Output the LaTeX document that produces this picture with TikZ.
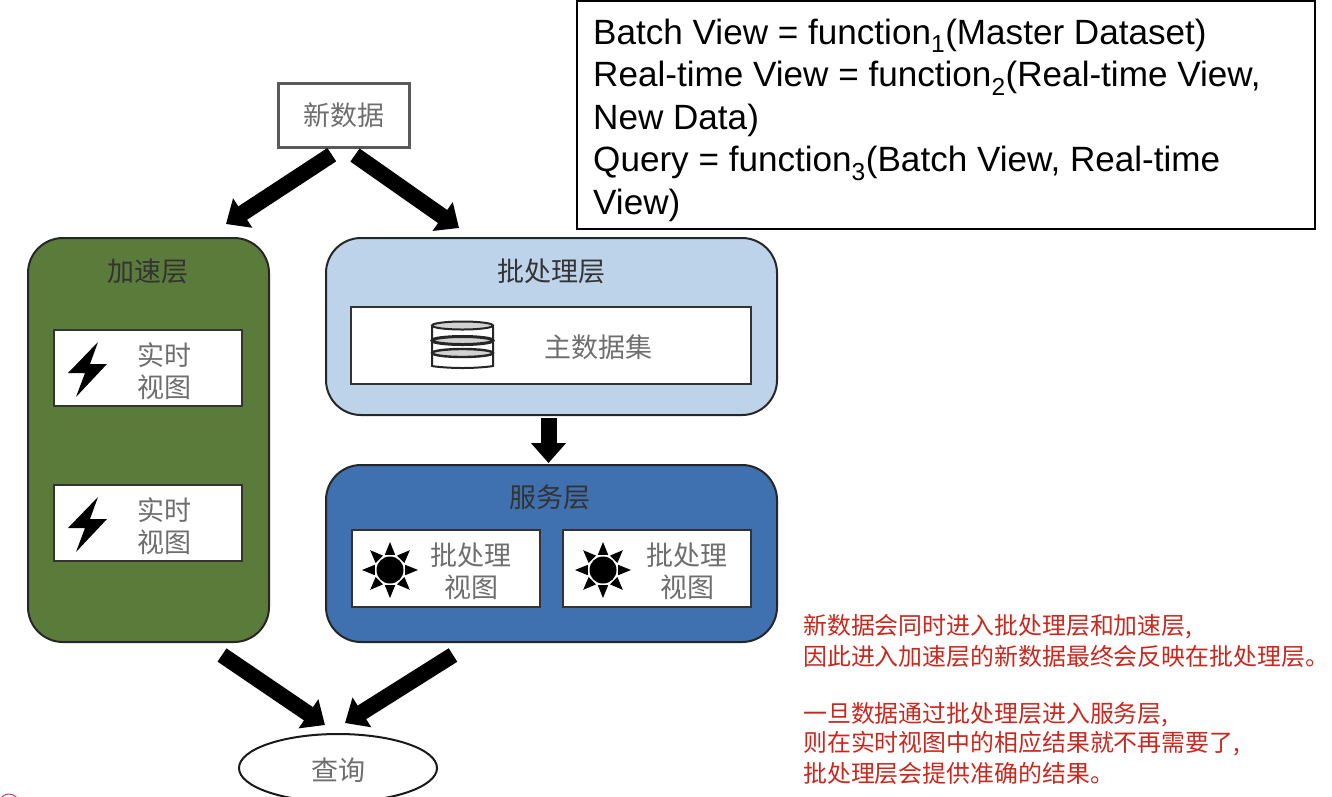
\documentclass[tikz,border=0pt]{standalone}
\usepackage{fontspec}
\setmainfont{Liberation Sans}
\newfontfamily\cjk{Noto Sans CJK SC}
\usepackage{tikz}
\usetikzlibrary{positioning,arrows.meta,shapes.geometric}
\definecolor{speedgreen}{HTML}{5B7B3A}
\definecolor{batchblue}{HTML}{BDD3EA}
\definecolor{servingblue}{HTML}{3F71B0}
\definecolor{notered}{HTML}{C8281E}
\definecolor{viewgray}{HTML}{6E6E6E}
\definecolor{markpink}{HTML}{C04060}
\newcommand{\fsize}[1]{\fontsize{#1}{#1}\selectfont}

\begin{document}
\begin{tikzpicture}[x=1pt,y=-1pt,
    layernode/.style={draw=black!85, line width=2pt, rounded corners=35pt, anchor=north west, inner sep=0pt, outer sep=0pt},
    viewnode/.style={draw=black!80, fill=white, line width=2.2pt, anchor=north west, inner sep=0pt, outer sep=0pt},
    titlelabel/.style={font=\cjk\fsize{27}, text=black!80},
    viewlabel/.style={font=\cjk\fsize{27}, text=viewgray, align=center, inner sep=0pt},
    notelabel/.style={font=\cjk\fsize{23.9}, text=notered, anchor=west, inner sep=0pt},
    fatarrow/.style={-{Triangle[width=34pt,length=20pt]}, line width=16pt, black},]
    \useasboundingbox (0,0) rectangle (1332,796);
    \clip (0,0) rectangle (1332,796);
    %Nodes
    \node[draw=black!65, line width=3pt, anchor=north west, minimum width=131pt, minimum height=64pt, outer sep=0pt, viewlabel] (newdata) at (278,83) {新数据};
    \node[layernode, fill=speedgreen, minimum width=241pt, minimum height=404pt] (speed) at (28,238) {};
    \node[layernode, fill=batchblue, minimum width=451pt, minimum height=177pt] (batch) at (326,238) {};
    \node[layernode, fill=servingblue, minimum width=451pt, minimum height=177pt] (serving) at (326,465) {};
    \node[draw=black!90, line width=2pt, ellipse, minimum width=198pt, minimum height=68pt, inner sep=0pt, fill=white] (query) at (338,768) {};
    \node[viewlabel] (querytext) at (338,770) {查询};
    \node[titlelabel] (speedtitle) at (148,271) {加速层};
    \node[titlelabel] (batchtitle) at (551,271) {批处理层};
    \node[titlelabel] (servingtitle) at (550,497) {服务层};
    \node[viewnode, minimum width=188pt, minimum height=76pt] (rtone) at (54,330) {};
    \node[viewnode, minimum width=188pt, minimum height=76pt] (rttwo) at (54,485) {};
    \node[viewnode, minimum width=400pt, minimum height=77pt] (master) at (351,307) {};
    \node[viewnode, minimum width=188pt, minimum height=77pt] (bvone) at (352,530) {};
    \node[viewnode, minimum width=188pt, minimum height=77pt] (bvtwo) at (563,530) {};
    \node[viewlabel] (rtonetext) at (164,371) {实时\\[5pt]视图};
    \node[viewlabel] (rttwotext) at (164,526) {实时\\[5pt]视图};
    \node[viewlabel] (mastertext) at (598,347) {主数据集};
    \node[viewlabel] (bvonetext) at (471,571) {批处理\\[5pt]视图};
    \node[viewlabel] (bvtwotext) at (687,571) {批处理\\[5pt]视图};
    \node[draw=black, fill=white, line width=2pt, anchor=north west, minimum width=738pt, minimum height=228pt, inner sep=0pt, outer sep=0pt] (formulas) at (577,1) {};
    \node[anchor=west, align=left, inner sep=0pt, font=\fsize{35.1}] (formulatext) at (593,120) {%
      Batch View = function\textsubscript{1}(Master Dataset)\\[7.4pt]
      Real-time View = function\textsubscript{2}(Real-time View,\\[7.4pt]
      New Data)\\[7.4pt]
      Query = function\textsubscript{3}(Batch View, Real-time\\[7.4pt]
      View)};
    \node[notelabel] (noteone) at (803,627) {新数据会同时进入批处理层和加速层,};
    \node[notelabel] (notetwo) at (803,656) {因此进入加速层的新数据最终会反映在批处理层。};
    \node[notelabel] (notethree) at (803,715) {一旦数据通过批处理层进入服务层,};
    \node[notelabel] (notefour) at (803,744) {则在实时视图中的相应结果就不再需要了,};
    \node[notelabel] (notefive) at (803,773) {批处理层会提供准确的结果。};
    % %Icons
    \foreach \cy in {370,525}
      \fill[black] (98,\cy-28) -- (68,\cy+3) -- (85,\cy+3) -- (76,\cy+27) -- (107,\cy-6) -- (90,\cy-6) -- cycle;
    \foreach \cx in {390,603} {
      \fill[black] (\cx,570) circle (13.5pt);
      \foreach \a in {0,45,...,315}
        \fill[black] ([shift={(\a:28pt)}]\cx,570) -- ([shift={(\a+19:16pt)}]\cx,570) -- ([shift={(\a-19:16pt)}]\cx,570) -- cycle;
    }
    \draw[black!85, line width=2pt, fill=white, rounded corners=2pt] (432,326) -- (432,364) arc (180:360:30.5pt and 4pt) -- (493,326);
    \foreach \cy/\lw in {325.5/2pt,340.5/3pt,353/2.4pt}
      \draw[black!85, line width=\lw, fill=black!18] (462.5,\cy) ellipse (30.5pt and 4pt);
    \draw[markpink, line width=1pt] (9,804) circle (10pt);
    %Lines
    \coordinate (speedhead) at (226,224);
    \coordinate (batchhead) at (459,228);
    \coordinate (speedfoot) at (222,655);
    \coordinate (servingfoot) at (453,655);
    \coordinate (queryleft) at (325,725);
    \coordinate (queryright) at (345,723);
    \coordinate (servinghead) at (548.5,463);
    \draw[fatarrow, shorten <=14pt] (newdata.south) -- (speedhead);
    \draw[fatarrow, shorten <=14pt] (newdata.south) -- (batchhead);
    \draw[fatarrow, shorten <=3pt] (batch.south -| servinghead) -- (servinghead);
    \draw[fatarrow] (speedfoot) -- (queryleft);
    \draw[fatarrow] (servingfoot) -- (queryright);
\end{tikzpicture}
\end{document}
